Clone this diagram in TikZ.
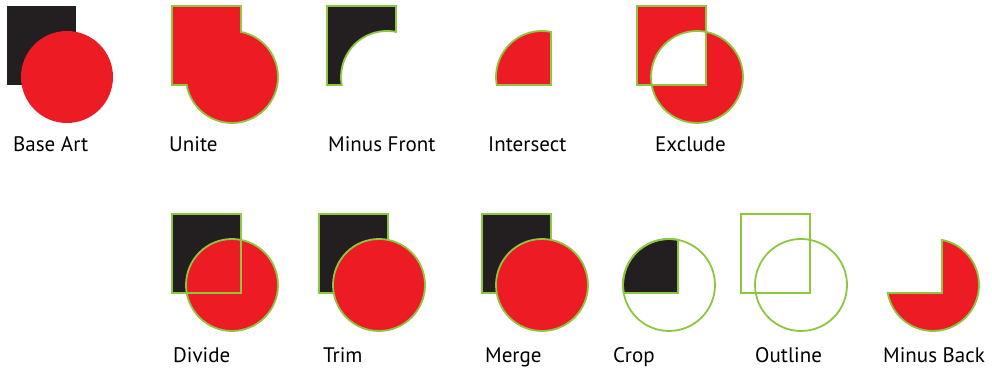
\documentclass[tikz,border=0pt]{standalone}
\usepackage{fontspec}
\setmainfont{PT Sans}
\definecolor{pred}{HTML}{ED1C24}
\definecolor{pblack}{HTML}{231F20}
\definecolor{pgreen}{HTML}{8DC63F}
\newcommand\sqpath[2]{(#1-60,#2-8) rectangle (#1+9,#2+71)}
\newcommand\cirpath[2]{(#1,#2) circle[radius=46]}
\begin{document}
\begin{tikzpicture}[x=1pt,y=1pt,
  edge/.style={draw=pgreen,line width=1.8pt,line join=miter},
  lab/.style={anchor=base west,inner sep=0pt,font=\fontsize{21}{24}\selectfont}]
\useasboundingbox (0,0) rectangle (992,369);
% ---------- Base Art
\fill[pblack] \sqpath{67}{292};
\fill[pred] \cirpath{67}{292};
% ---------- Unite
\filldraw[fill=pred,edge] (232-60,292+71) -- (232+9,292+71) -- (232+9,292+45.11)
  arc[start angle=78.72,end angle=-169.98,radius=46] -- (232-60,292-8) -- cycle;
% ---------- Minus Front
\filldraw[fill=pblack,edge] (387-60,292+71) -- (387+9,292+71) -- (387+9,292+45.11)
  arc[start angle=78.72,end angle=190.02,radius=46] -- (387-60,292-8) -- cycle;
% ---------- Intersect
\filldraw[fill=pred,edge] (542+9,292+45.11)
  arc[start angle=78.72,end angle=190.02,radius=46] -- (542+9,292-8) -- cycle;
% ---------- Exclude
\fill[pred,even odd rule] \sqpath{697}{292} \cirpath{697}{292};
\draw[edge] \sqpath{697}{292};
\draw[edge] \cirpath{697}{292};
% ---------- Divide
\fill[pblack] \sqpath{232}{84};
\fill[pred] \cirpath{232}{84};
\draw[edge] \sqpath{232}{84};
\draw[edge] \cirpath{232}{84};
% ---------- Trim
\filldraw[fill=pblack,edge] \sqpath{379}{84};
\filldraw[fill=pred,edge] \cirpath{379}{84};
% ---------- Merge
\filldraw[fill=pblack,edge] \sqpath{542}{84};
\filldraw[fill=pred,edge] \cirpath{542}{84};
% ---------- Crop
\filldraw[fill=pblack,edge] (669+9,84+45.11)
  arc[start angle=78.72,end angle=190.02,radius=46] -- (669+9,84-8) -- cycle;
\draw[edge] \cirpath{669}{84};
% ---------- Outline
\draw[edge] \sqpath{801}{84};
\draw[edge] \cirpath{801}{84};
% ---------- Minus Back
\filldraw[fill=pred,edge] (933+9,84+45.11)
  arc[start angle=78.72,end angle=-169.98,radius=46] -- (933+9,84-8) -- cycle;
% ---------- labels
\node[lab] (lbase) at (13,217) {Base Art};
\node[lab] (lunite) at (169,217) {Unite};
\node[lab] (lminusf) at (328,217) {Minus Front};
\node[lab] (linter) at (488,217) {Intersect};
\node[lab] (lexcl) at (655,217) {Exclude};
\node[lab] (ldivide) at (173,6) {Divide};
\node[lab] (ltrim) at (323,6) {Trim};
\node[lab] (lmerge) at (485,6) {Merge};
\node[lab] (lcrop) at (613,6) {Crop};
\node[lab] (loutline) at (755,6) {Outline};
\node[lab] (lminusb) at (883,6) {Minus Back};
\end{tikzpicture}
\end{document}
